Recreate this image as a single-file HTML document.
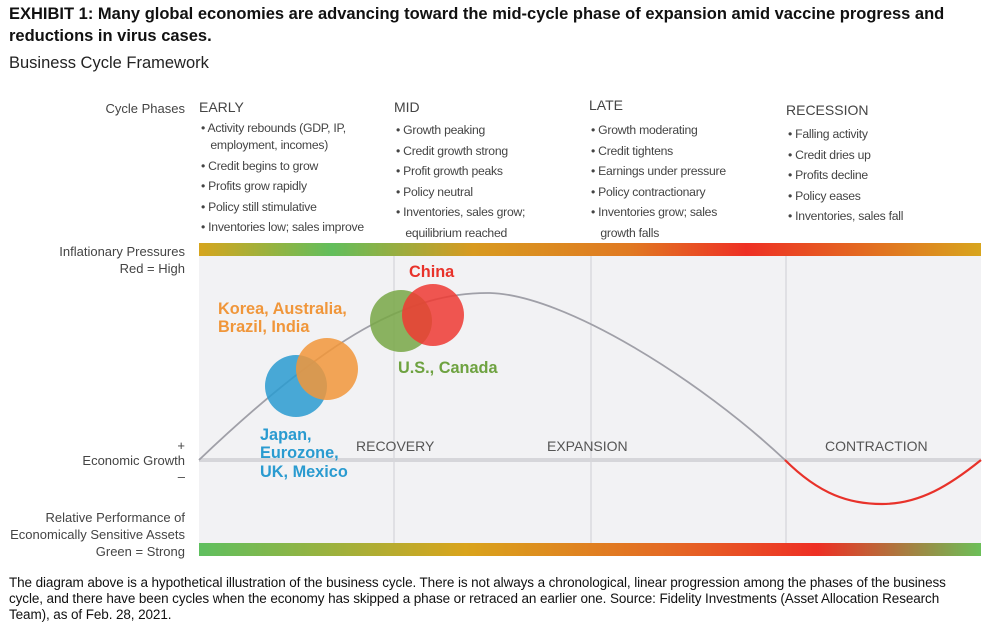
<!DOCTYPE html>
<html><head><meta charset="utf-8">
<style>
body{margin:0;width:987px;height:627px;background:#fff;font-family:"Liberation Sans",sans-serif;color:#222;position:relative;overflow:hidden}
.a{position:absolute;white-space:nowrap}
.t{font-weight:bold;font-size:16.5px;left:9px;color:#111}
.ph{font-size:14px;color:#444}
.bl{font-size:12.2px;color:#444;line-height:17px;letter-spacing:-0.25px}
.lb{font-size:13px;color:#444;text-align:right;right:802px}
.ft{font-size:13.5px;left:9px;line-height:16px;color:#111;letter-spacing:-0.1px}
</style></head><body>
<div class="a t" style="top:5px">EXHIBIT 1: Many global economies are advancing toward the mid-cycle phase of expansion amid vaccine progress and</div>
<div class="a t" style="top:27px">reductions in virus cases.</div>
<div class="a" style="top:54px;left:9px;font-size:16.5px;color:#222">Business Cycle Framework</div>

<div class="a lb" style="top:101px">Cycle Phases</div>
<div class="a ph" style="top:99px;left:199px">EARLY</div>
<div class="a bl" style="top:120px;left:201px">• Activity rebounds (GDP, IP,<br>&nbsp;&nbsp;&nbsp;employment, incomes)<br><span style="line-height:24px">• Credit begins to grow</span><br>• Profits grow rapidly<br><span style="line-height:24px">• Policy still stimulative</span><br>• Inventories low; sales improve</div>
<div class="a ph" style="top:99px;left:394px">MID</div>
<div class="a bl" style="top:120px;left:396px;line-height:20.5px">• Growth peaking<br>• Credit growth strong<br>• Profit growth peaks<br>• Policy neutral<br><span style="line-height:17px">• Inventories, sales grow;<br>&nbsp;&nbsp;&nbsp;equilibrium reached</span></div>
<div class="a ph" style="top:97px;left:589px">LATE</div>
<div class="a bl" style="top:120px;left:591px;line-height:20.5px">• Growth moderating<br>• Credit tightens<br>• Earnings under pressure<br>• Policy contractionary<br><span style="line-height:17px">• Inventories grow; sales<br>&nbsp;&nbsp;&nbsp;growth falls</span></div>
<div class="a ph" style="top:102px;left:786px">RECESSION</div>
<div class="a bl" style="top:124px;left:788px;line-height:20.5px">• Falling activity<br>• Credit dries up<br>• Profits decline<br>• Policy eases<br>• Inventories, sales fall</div>

<div class="a lb" style="top:243px;line-height:17px">Inflationary Pressures<br>Red = High</div>
<div class="a lb" style="top:438px;line-height:15px">+<br><span style="line-height:16px">Economic Growth</span><br>–</div>
<div class="a lb" style="top:509px;line-height:17px">Relative Performance of<br>Economically Sensitive Assets<br>Green = Strong</div>

<svg class="a" style="left:0;top:0" width="987" height="627">
<defs>
<linearGradient id="g1"><stop offset="0" stop-color="#d6a51e"/><stop offset=".17" stop-color="#62be5c"/><stop offset=".35" stop-color="#d89a20"/><stop offset=".55" stop-color="#e07a22"/><stop offset=".7" stop-color="#ee3024"/><stop offset="1" stop-color="#d8a51e"/></linearGradient>
<linearGradient id="g2"><stop offset="0" stop-color="#5fbf5f"/><stop offset=".34" stop-color="#d9a41c"/><stop offset=".6" stop-color="#e46a24"/><stop offset=".79" stop-color="#ee2f24"/><stop offset="1" stop-color="#6cbf58"/></linearGradient>
</defs>
<rect x="199" y="256" width="782" height="287" fill="#f2f2f4"/>
<rect x="199" y="243" width="782" height="13" fill="url(#g1)"/>
<rect x="199" y="543" width="782" height="13" fill="url(#g2)"/>
<g stroke="#cfcfd4" stroke-width="1">
<line x1="394" y1="256" x2="394" y2="543"/><line x1="591" y1="256" x2="591" y2="543"/><line x1="786" y1="256" x2="786" y2="543"/></g>
<rect x="199" y="458" width="782" height="4" fill="#d6d6da"/>
<path d="M199,460 C330,335 410,292 490,293 C565,295 700,380 785,460" fill="none" stroke="#a0a0a8" stroke-width="1.8"/>
<path d="M785,460 C820,495 850,504 882,504 C920,504 950,485 981,460" fill="none" stroke="#e8322a" stroke-width="2.2"/>
<g font-size="14" fill="#555" font-family="Liberation Sans,sans-serif">
<text x="356" y="451">RECOVERY</text>
<text x="547" y="451">EXPANSION</text>
<text x="825" y="451">CONTRACTION</text></g>
<g id="circles"></g>
<g font-size="16.3" font-weight="bold" font-family="Liberation Sans,sans-serif">
<text x="409" y="277" fill="#e8322a">China</text>
<text x="218" y="314" fill="#f0963a">Korea, Australia,</text>
<text x="218" y="332" fill="#f0963a">Brazil, India</text>
<text x="398" y="373" fill="#6ea240">U.S., Canada</text>
<text x="260" y="440" fill="#2a9bd0">Japan,</text>
<text x="260" y="458" fill="#2a9bd0">Eurozone,</text>
<text x="260" y="477" fill="#2a9bd0">UK, Mexico</text></g>
</svg>

<div class="a ft" style="top:575px">The diagram above is a hypothetical illustration of the business cycle. There is not always a chronological, linear progression among the phases of the business<br>cycle, and there have been cycles when the economy has skipped a phase or retraced an earlier one. Source: Fidelity Investments (Asset Allocation Research<br>Team), as of Feb. 28, 2021.</div>

<script>
const regions=["japan-eurozone","korea-australia","us-canada","china"];
const cycleX=[296,327,401,433];
const cycleY=[386,369,321,315];
const colors=["#2a9bd0","#f2973a","#78a745","#ee3a32"];
const g=document.getElementById('circles');
for(let i=0;i<regions.length;i++){
 const c=document.createElementNS('http://www.w3.org/2000/svg','circle');
 c.setAttribute('cx',cycleX[i]);c.setAttribute('cy',cycleY[i]);c.setAttribute('r',31);
 c.setAttribute('fill',colors[i]);c.setAttribute('fill-opacity','0.85');
 
 
 g.appendChild(c);
}
</script>
</body></html>
